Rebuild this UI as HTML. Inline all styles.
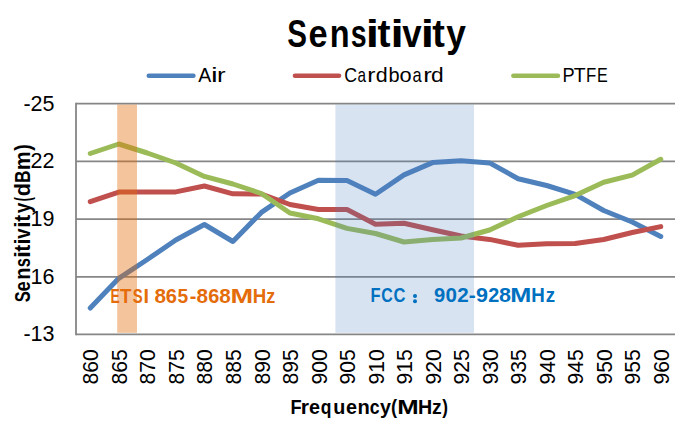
<!DOCTYPE html>
<html><head><meta charset="utf-8"><style>
html,body{margin:0;padding:0;background:#fff;}
svg{display:block;}
text{font-family:"Liberation Sans", sans-serif;}
</style></head><body>
<svg width="690" height="425" viewBox="0 0 690 425">
<rect x="0" y="0" width="690" height="425" fill="#fff"/>

<line x1="76.0" y1="103.6" x2="675.0" y2="103.6" stroke="#868686" stroke-width="1.8"/>
<line x1="76.0" y1="161.3" x2="675.0" y2="161.3" stroke="#868686" stroke-width="1.8"/>
<line x1="76.0" y1="219.1" x2="675.0" y2="219.1" stroke="#868686" stroke-width="1.8"/>
<line x1="76.0" y1="276.8" x2="675.0" y2="276.8" stroke="#868686" stroke-width="1.8"/>
<line x1="76.0" y1="334.4" x2="675.0" y2="334.4" stroke="#868686" stroke-width="1.8"/>
<line x1="76.0" y1="102.69999999999999" x2="76.0" y2="335.29999999999995" stroke="#868686" stroke-width="1.8"/>
<polyline points="90.26,308.00 118.79,278.30 147.31,259.50 175.83,240.00 204.36,224.50 232.88,241.50 261.40,212.40 289.93,193.00 318.45,180.30 346.98,180.60 375.50,194.20 404.02,174.90 432.55,162.60 461.07,160.80 489.60,162.90 518.12,178.70 546.64,185.50 575.17,194.40 603.69,210.50 632.21,222.00 660.74,236.50" fill="none" stroke="#4F81BD" stroke-width="5.0" stroke-linejoin="round" stroke-linecap="round"/>
<polyline points="90.26,201.60 118.79,192.10 147.31,192.00 175.83,191.90 204.36,186.00 232.88,193.80 261.40,194.00 289.93,204.50 318.45,209.50 346.98,209.50 375.50,224.30 404.02,223.20 432.55,229.70 461.07,236.00 489.60,239.40 518.12,245.30 546.64,243.80 575.17,243.50 603.69,239.50 632.21,232.50 660.74,226.60" fill="none" stroke="#C0504D" stroke-width="5.0" stroke-linejoin="round" stroke-linecap="round"/>
<polyline points="90.26,153.50 118.79,144.00 147.31,153.00 175.83,163.00 204.36,176.40 232.88,184.00 261.40,193.50 289.93,213.00 318.45,218.80 346.98,228.40 375.50,233.50 404.02,242.00 432.55,239.60 461.07,238.00 489.60,230.00 518.12,216.80 546.64,205.50 575.17,195.60 603.69,182.20 632.21,175.10 660.74,159.30" fill="none" stroke="#9BBB59" stroke-width="5.0" stroke-linejoin="round" stroke-linecap="round"/>
<rect x="117.2" y="104.6" width="19.8" height="228.2" fill="#E46C0A" fill-opacity="0.4"/>
<rect x="335.4" y="104.6" width="138.6" height="228.2" fill="#4F81BD" fill-opacity="0.22"/>
<text x="287.22" y="47.1" font-size="38" font-weight="bold" fill="#000" textLength="19.74" lengthAdjust="spacingAndGlyphs">S</text><text x="308.44" y="47.1" font-size="38" font-weight="bold" fill="#000" textLength="19.11" lengthAdjust="spacingAndGlyphs">e</text><text x="329.66" y="47.1" font-size="38" font-weight="bold" fill="#000" textLength="19.83" lengthAdjust="spacingAndGlyphs">n</text><text x="350.86" y="47.1" font-size="38" font-weight="bold" fill="#000" textLength="15.87" lengthAdjust="spacingAndGlyphs">s</text><text x="365.86" y="47.1" font-size="38" font-weight="bold" fill="#000" textLength="13.25" lengthAdjust="spacingAndGlyphs">i</text><text x="377.49" y="47.1" font-size="38" font-weight="bold" fill="#000" textLength="13.03" lengthAdjust="spacingAndGlyphs">t</text><text x="390.46" y="47.1" font-size="38" font-weight="bold" fill="#000" textLength="13.25" lengthAdjust="spacingAndGlyphs">i</text><text x="402.27" y="47.1" font-size="38" font-weight="bold" fill="#000" textLength="19.36" lengthAdjust="spacingAndGlyphs">v</text><text x="420.76" y="47.1" font-size="38" font-weight="bold" fill="#000" textLength="13.25" lengthAdjust="spacingAndGlyphs">i</text><text x="432.3" y="47.1" font-size="38" font-weight="bold" fill="#000" textLength="12.6" lengthAdjust="spacingAndGlyphs">t</text><text x="446.37" y="47.1" font-size="38" font-weight="bold" fill="#000" textLength="19.66" lengthAdjust="spacingAndGlyphs">y</text>
<line x1="148.8" y1="75.8" x2="193.4" y2="75.8" stroke="#4F81BD" stroke-width="4.6" stroke-linecap="round"/>
<line x1="295.0" y1="75.8" x2="339.0" y2="75.8" stroke="#C0504D" stroke-width="4.6" stroke-linecap="round"/>
<line x1="513.4" y1="75.8" x2="557.9" y2="75.8" stroke="#9BBB59" stroke-width="4.6" stroke-linecap="round"/>
<text x="198.3" y="81.7" font-size="20.8" font-weight="normal" fill="#000" textLength="13.02" lengthAdjust="spacingAndGlyphs">A</text><text x="211.09" y="81.7" font-size="20.8" font-weight="normal" fill="#000" textLength="6.71" lengthAdjust="spacingAndGlyphs">i</text><text x="217.05" y="81.7" font-size="20.8" font-weight="normal" fill="#000" textLength="8.59" lengthAdjust="spacingAndGlyphs">r</text>
<text x="344.15" y="81.7" font-size="20.8" font-weight="normal" fill="#000" textLength="12.82" lengthAdjust="spacingAndGlyphs">C</text><text x="357.45" y="81.7" font-size="20.8" font-weight="normal" fill="#000" textLength="8.51" lengthAdjust="spacingAndGlyphs">a</text><text x="367.32" y="81.7" font-size="20.8" font-weight="normal" fill="#000" textLength="8.19" lengthAdjust="spacingAndGlyphs">r</text><text x="375.73" y="81.7" font-size="20.8" font-weight="normal" fill="#000" textLength="11.94" lengthAdjust="spacingAndGlyphs">d</text><text x="388.5" y="81.7" font-size="20.8" font-weight="normal" fill="#000" textLength="11.09" lengthAdjust="spacingAndGlyphs">b</text><text x="399.41" y="81.7" font-size="20.8" font-weight="normal" fill="#000" textLength="12.16" lengthAdjust="spacingAndGlyphs">o</text><text x="412.41" y="81.7" font-size="20.8" font-weight="normal" fill="#000" textLength="9.15" lengthAdjust="spacingAndGlyphs">a</text><text x="423.25" y="81.7" font-size="20.8" font-weight="normal" fill="#000" textLength="8.59" lengthAdjust="spacingAndGlyphs">r</text><text x="431.08" y="81.7" font-size="20.8" font-weight="normal" fill="#000" textLength="12.68" lengthAdjust="spacingAndGlyphs">d</text>
<text x="562.57" y="81.7" font-size="20.8" font-weight="normal" fill="#000" textLength="12.11" lengthAdjust="spacingAndGlyphs">P</text><text x="573.83" y="81.7" font-size="20.8" font-weight="normal" fill="#000" textLength="11.91" lengthAdjust="spacingAndGlyphs">T</text><text x="585.98" y="81.7" font-size="20.8" font-weight="normal" fill="#000" textLength="10.3" lengthAdjust="spacingAndGlyphs">F</text><text x="596.95" y="81.7" font-size="20.8" font-weight="normal" fill="#000" textLength="10.73" lengthAdjust="spacingAndGlyphs">E</text>
<text x="54.5" y="110.5" font-size="21.5" fill="#000" text-anchor="end">-25</text>
<text x="54.5" y="168.20000000000002" font-size="21.5" fill="#000" text-anchor="end">22</text>
<text x="54.5" y="226.0" font-size="21.5" fill="#000" text-anchor="end">19</text>
<text x="54.5" y="283.7" font-size="21.5" fill="#000" text-anchor="end">16</text>
<text x="54.5" y="341.29999999999995" font-size="21.5" fill="#000" text-anchor="end">-13</text>
<text transform="translate(98.36,349.26) rotate(-90)" font-size="22.2" fill="#000" text-anchor="end" textLength="35.19" lengthAdjust="spacingAndGlyphs">860</text>
<text transform="translate(126.89,349.26) rotate(-90)" font-size="22.2" fill="#000" text-anchor="end" textLength="35.19" lengthAdjust="spacingAndGlyphs">865</text>
<text transform="translate(155.41,349.26) rotate(-90)" font-size="22.2" fill="#000" text-anchor="end" textLength="35.19" lengthAdjust="spacingAndGlyphs">870</text>
<text transform="translate(183.93,349.26) rotate(-90)" font-size="22.2" fill="#000" text-anchor="end" textLength="35.19" lengthAdjust="spacingAndGlyphs">875</text>
<text transform="translate(212.46,349.26) rotate(-90)" font-size="22.2" fill="#000" text-anchor="end" textLength="35.19" lengthAdjust="spacingAndGlyphs">880</text>
<text transform="translate(240.98,349.26) rotate(-90)" font-size="22.2" fill="#000" text-anchor="end" textLength="35.19" lengthAdjust="spacingAndGlyphs">885</text>
<text transform="translate(269.50,349.26) rotate(-90)" font-size="22.2" fill="#000" text-anchor="end" textLength="35.19" lengthAdjust="spacingAndGlyphs">890</text>
<text transform="translate(298.03,349.26) rotate(-90)" font-size="22.2" fill="#000" text-anchor="end" textLength="35.19" lengthAdjust="spacingAndGlyphs">895</text>
<text transform="translate(326.55,349.26) rotate(-90)" font-size="22.2" fill="#000" text-anchor="end" textLength="35.19" lengthAdjust="spacingAndGlyphs">900</text>
<text transform="translate(355.08,349.26) rotate(-90)" font-size="22.2" fill="#000" text-anchor="end" textLength="35.19" lengthAdjust="spacingAndGlyphs">905</text>
<text transform="translate(383.60,349.26) rotate(-90)" font-size="22.2" fill="#000" text-anchor="end" textLength="35.19" lengthAdjust="spacingAndGlyphs">910</text>
<text transform="translate(412.12,349.26) rotate(-90)" font-size="22.2" fill="#000" text-anchor="end" textLength="35.19" lengthAdjust="spacingAndGlyphs">915</text>
<text transform="translate(440.65,349.26) rotate(-90)" font-size="22.2" fill="#000" text-anchor="end" textLength="35.19" lengthAdjust="spacingAndGlyphs">920</text>
<text transform="translate(469.17,349.26) rotate(-90)" font-size="22.2" fill="#000" text-anchor="end" textLength="35.19" lengthAdjust="spacingAndGlyphs">925</text>
<text transform="translate(497.70,349.26) rotate(-90)" font-size="22.2" fill="#000" text-anchor="end" textLength="35.19" lengthAdjust="spacingAndGlyphs">930</text>
<text transform="translate(526.22,349.26) rotate(-90)" font-size="22.2" fill="#000" text-anchor="end" textLength="35.19" lengthAdjust="spacingAndGlyphs">935</text>
<text transform="translate(554.74,349.26) rotate(-90)" font-size="22.2" fill="#000" text-anchor="end" textLength="35.19" lengthAdjust="spacingAndGlyphs">940</text>
<text transform="translate(583.27,349.26) rotate(-90)" font-size="22.2" fill="#000" text-anchor="end" textLength="35.19" lengthAdjust="spacingAndGlyphs">945</text>
<text transform="translate(611.79,349.26) rotate(-90)" font-size="22.2" fill="#000" text-anchor="end" textLength="35.19" lengthAdjust="spacingAndGlyphs">950</text>
<text transform="translate(640.31,349.26) rotate(-90)" font-size="22.2" fill="#000" text-anchor="end" textLength="35.19" lengthAdjust="spacingAndGlyphs">955</text>
<text transform="translate(668.84,349.26) rotate(-90)" font-size="22.2" fill="#000" text-anchor="end" textLength="35.19" lengthAdjust="spacingAndGlyphs">960</text>
<text x="290.39" y="414.1" font-size="20.6" font-weight="bold" fill="#000" textLength="11.15" lengthAdjust="spacingAndGlyphs">F</text><text x="300.71" y="414.1" font-size="20.6" font-weight="bold" fill="#000" textLength="8.26" lengthAdjust="spacingAndGlyphs">r</text><text x="308.88" y="414.1" font-size="20.6" font-weight="bold" fill="#000" textLength="11.01" lengthAdjust="spacingAndGlyphs">e</text><text x="320.76" y="414.1" font-size="20.6" font-weight="bold" fill="#000" textLength="10.67" lengthAdjust="spacingAndGlyphs">q</text><text x="333.2" y="414.1" font-size="20.6" font-weight="bold" fill="#000" textLength="12.09" lengthAdjust="spacingAndGlyphs">u</text><text x="345.88" y="414.1" font-size="20.6" font-weight="bold" fill="#000" textLength="11.01" lengthAdjust="spacingAndGlyphs">e</text><text x="357.38" y="414.1" font-size="20.6" font-weight="bold" fill="#000" textLength="12.34" lengthAdjust="spacingAndGlyphs">n</text><text x="369.66" y="414.1" font-size="20.6" font-weight="bold" fill="#000" textLength="9.86" lengthAdjust="spacingAndGlyphs">c</text><text x="379.96" y="414.1" font-size="20.6" font-weight="bold" fill="#000" textLength="10.95" lengthAdjust="spacingAndGlyphs">y</text><text x="391.01" y="414.1" font-size="20.6" font-weight="bold" fill="#000" textLength="6.08" lengthAdjust="spacingAndGlyphs">(</text><text x="397.34" y="414.1" font-size="20.6" font-weight="bold" fill="#000" textLength="21.42" lengthAdjust="spacingAndGlyphs">M</text><text x="418.01" y="414.1" font-size="20.6" font-weight="bold" fill="#000" textLength="14.21" lengthAdjust="spacingAndGlyphs">H</text><text x="432.1" y="414.1" font-size="20.6" font-weight="bold" fill="#000" textLength="9.65" lengthAdjust="spacingAndGlyphs">z</text><text x="442.3" y="414.1" font-size="20.6" font-weight="bold" fill="#000" textLength="5.73" lengthAdjust="spacingAndGlyphs">)</text>
<g transform="translate(30.4,310) rotate(-90)"><text x="7.63" y="0" font-size="22" font-weight="bold" fill="#000" textLength="11.07" lengthAdjust="spacingAndGlyphs">S</text><text x="18.57" y="0" font-size="22" font-weight="bold" fill="#000" textLength="10.26" lengthAdjust="spacingAndGlyphs">e</text><text x="30.24" y="0" font-size="22" font-weight="bold" fill="#000" textLength="12.17" lengthAdjust="spacingAndGlyphs">n</text><text x="42.84" y="0" font-size="22" font-weight="bold" fill="#000" textLength="9.22" lengthAdjust="spacingAndGlyphs">s</text><text x="51.9" y="0" font-size="22" font-weight="bold" fill="#000" textLength="6.94" lengthAdjust="spacingAndGlyphs">i</text><text x="58.26" y="0" font-size="22" font-weight="bold" fill="#000" textLength="6.95" lengthAdjust="spacingAndGlyphs">t</text><text x="65.5" y="0" font-size="22" font-weight="bold" fill="#000" textLength="6.12" lengthAdjust="spacingAndGlyphs">i</text><text x="71.29" y="0" font-size="22" font-weight="bold" fill="#000" textLength="10.22" lengthAdjust="spacingAndGlyphs">v</text><text x="82.35" y="0" font-size="22" font-weight="bold" fill="#000" textLength="6.33" lengthAdjust="spacingAndGlyphs">i</text><text x="88.26" y="0" font-size="22" font-weight="bold" fill="#000" textLength="6.95" lengthAdjust="spacingAndGlyphs">t</text><text x="96.78" y="0" font-size="22" font-weight="bold" fill="#000" textLength="10.63" lengthAdjust="spacingAndGlyphs">y</text><text x="108.86" y="0" font-size="22" font-weight="bold" fill="#000" textLength="3.99" lengthAdjust="spacingAndGlyphs">(</text><text x="113.72" y="0" font-size="22" font-weight="bold" fill="#000" textLength="13.21" lengthAdjust="spacingAndGlyphs">d</text><text x="126.92" y="0" font-size="22" font-weight="bold" fill="#000" textLength="12.48" lengthAdjust="spacingAndGlyphs">B</text><text x="139.65" y="0" font-size="22" font-weight="bold" fill="#000" textLength="18.92" lengthAdjust="spacingAndGlyphs">m</text><text x="159.2" y="0" font-size="22" font-weight="bold" fill="#000" textLength="6.57" lengthAdjust="spacingAndGlyphs">)</text></g>
<text x="110.46" y="302.9" font-size="20.5" font-weight="bold" fill="#E46C0A" textLength="9.2" lengthAdjust="spacingAndGlyphs">E</text><text x="120.07" y="302.9" font-size="20.5" font-weight="bold" fill="#E46C0A" textLength="11.38" lengthAdjust="spacingAndGlyphs">T</text><text x="132.64" y="302.9" font-size="20.5" font-weight="bold" fill="#E46C0A" textLength="9.96" lengthAdjust="spacingAndGlyphs">S</text><text x="143.39" y="302.9" font-size="20.5" font-weight="bold" fill="#E46C0A" textLength="5.51" lengthAdjust="spacingAndGlyphs">I</text><text x="154.54" y="302.9" font-size="20.5" font-weight="bold" fill="#E46C0A" textLength="11.52" lengthAdjust="spacingAndGlyphs">8</text><text x="165.76" y="302.9" font-size="20.5" font-weight="bold" fill="#E46C0A" textLength="11.18" lengthAdjust="spacingAndGlyphs">6</text><text x="177.4" y="302.9" font-size="20.5" font-weight="bold" fill="#E46C0A" textLength="10.72" lengthAdjust="spacingAndGlyphs">5</text><text x="189.67" y="302.9" font-size="20.5" font-weight="bold" fill="#E46C0A" textLength="6.63" lengthAdjust="spacingAndGlyphs">-</text><text x="196.54" y="302.9" font-size="20.5" font-weight="bold" fill="#E46C0A" textLength="11.52" lengthAdjust="spacingAndGlyphs">8</text><text x="208.17" y="302.9" font-size="20.5" font-weight="bold" fill="#E46C0A" textLength="11.06" lengthAdjust="spacingAndGlyphs">6</text><text x="219.34" y="302.9" font-size="20.5" font-weight="bold" fill="#E46C0A" textLength="11.52" lengthAdjust="spacingAndGlyphs">8</text><text x="230.64" y="302.9" font-size="20.5" font-weight="bold" fill="#E46C0A" textLength="22.61" lengthAdjust="spacingAndGlyphs">M</text><text x="252.86" y="302.9" font-size="20.5" font-weight="bold" fill="#E46C0A" textLength="13.54" lengthAdjust="spacingAndGlyphs">H</text><text x="266.34" y="302.9" font-size="20.5" font-weight="bold" fill="#E46C0A" textLength="9.02" lengthAdjust="spacingAndGlyphs">z</text>
<text x="370.6" y="302.2" font-size="20.5" font-weight="bold" fill="#0070C0" textLength="10.02" lengthAdjust="spacingAndGlyphs">F</text><text x="381.22" y="302.2" font-size="20.5" font-weight="bold" fill="#0070C0" textLength="11.52" lengthAdjust="spacingAndGlyphs">C</text><text x="393.49" y="302.2" font-size="20.5" font-weight="bold" fill="#0070C0" textLength="11.96" lengthAdjust="spacingAndGlyphs">C</text><text x="433.96" y="302.2" font-size="20.5" font-weight="bold" fill="#0070C0" textLength="11.18" lengthAdjust="spacingAndGlyphs">9</text><text x="445.55" y="302.2" font-size="20.5" font-weight="bold" fill="#0070C0" textLength="11.46" lengthAdjust="spacingAndGlyphs">0</text><text x="457.15" y="302.2" font-size="20.5" font-weight="bold" fill="#0070C0" textLength="11.46" lengthAdjust="spacingAndGlyphs">2</text><text x="468.73" y="302.2" font-size="20.5" font-weight="bold" fill="#0070C0" textLength="7.02" lengthAdjust="spacingAndGlyphs">-</text><text x="476.11" y="302.2" font-size="20.5" font-weight="bold" fill="#0070C0" textLength="11.98" lengthAdjust="spacingAndGlyphs">9</text><text x="488.18" y="302.2" font-size="20.5" font-weight="bold" fill="#0070C0" textLength="11.0" lengthAdjust="spacingAndGlyphs">2</text><text x="498.91" y="302.2" font-size="20.5" font-weight="bold" fill="#0070C0" textLength="11.98" lengthAdjust="spacingAndGlyphs">8</text><text x="510.26" y="302.2" font-size="20.5" font-weight="bold" fill="#0070C0" textLength="21.08" lengthAdjust="spacingAndGlyphs">M</text><text x="531.16" y="302.2" font-size="20.5" font-weight="bold" fill="#0070C0" textLength="13.54" lengthAdjust="spacingAndGlyphs">H</text><text x="545.71" y="302.2" font-size="20.5" font-weight="bold" fill="#0070C0" textLength="9.37" lengthAdjust="spacingAndGlyphs">z</text>
<circle cx="415" cy="296.1" r="2.0" fill="#0070C0"/><circle cx="415" cy="301.2" r="2.0" fill="#0070C0"/>
</svg></body></html>
